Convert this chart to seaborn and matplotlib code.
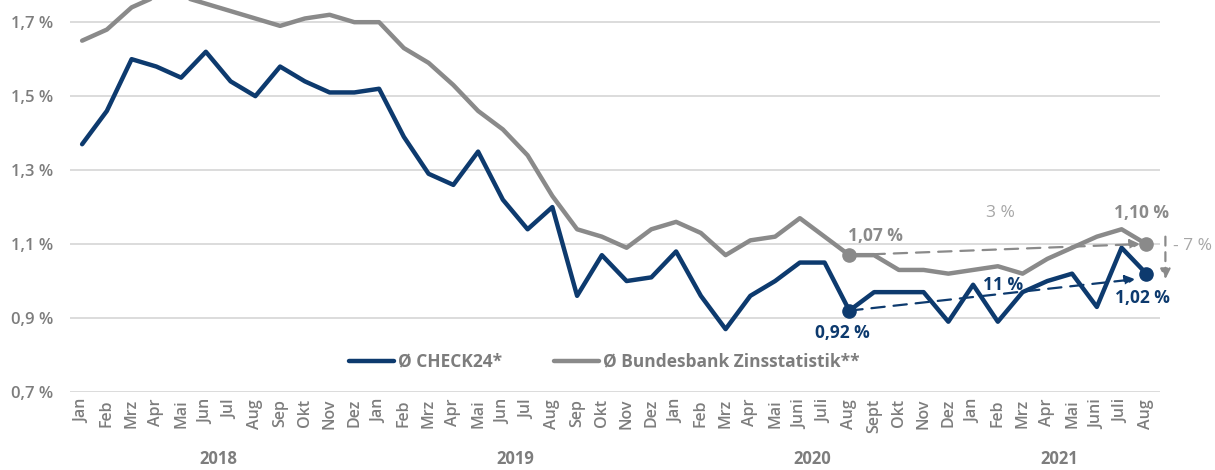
import pandas as pd
import numpy as np
import matplotlib.pyplot as plt
import seaborn as sns
from matplotlib.transforms import blended_transform_factory

months = ['Jan', 'Feb', 'Mrz', 'Apr', 'Mai', 'Jun', 'Jul', 'Aug', 'Sep', 'Okt', 'Nov', 'Dez',
          'Jan', 'Feb', 'Mrz', 'Apr', 'Mai', 'Jun', 'Jul', 'Aug', 'Sep', 'Okt', 'Nov', 'Dez',
          'Jan', 'Feb', 'Mrz', 'Apr', 'Mai', 'Juni', 'Juli', 'Aug', 'Sept', 'Okt', 'Nov', 'Dez',
          'Jan', 'Feb', 'Mrz', 'Apr', 'Mai', 'Juni', 'Juli', 'Aug']
years = ['2018', '2019', '2020', '2021']
year_first = [0, 12, 24, 36]
year_last = [11, 23, 35, 43]

check24 = [1.37, 1.46, 1.60, 1.58, 1.55, 1.62, 1.54, 1.50, 1.58, 1.54, 1.51, 1.51,
           1.52, 1.39, 1.29, 1.26, 1.35, 1.22, 1.14, 1.20, 0.96, 1.07, 1.00, 1.01,
           1.08, 0.96, 0.87, 0.96, 1.00, 1.05, 1.05, 0.92, 0.97, 0.97, 0.97, 0.89,
           0.99, 0.89, 0.97, 1.00, 1.02, 0.93, 1.09, 1.02]
bundesbank = [1.65, 1.68, 1.74, 1.77, 1.77, 1.75, 1.73, 1.71, 1.69, 1.71, 1.72, 1.70,
              1.70, 1.63, 1.59, 1.53, 1.46, 1.41, 1.34, 1.23, 1.14, 1.12, 1.09, 1.14,
              1.16, 1.13, 1.07, 1.11, 1.12, 1.17, 1.12, 1.07, 1.07, 1.03, 1.03, 1.02,
              1.03, 1.04, 1.02, 1.06, 1.09, 1.12, 1.14, 1.10]
series_names = ['Ø CHECK24*', 'Ø Bundesbank Zinsstatistik**']
yticks = [0.7, 0.9, 1.1, 1.3, 1.5, 1.7]

navy = '#0d3a6e'
grey = '#8a8a8a'
txt = '#7d7d7d'
light = '#a6a6a6'

n = len(months)
df = pd.DataFrame({
    'idx': list(range(n)) * 2,
    'Zins': check24 + bundesbank,
    'Serie': [series_names[0]] * n + [series_names[1]] * n,
})

sns.set_style('white')
plt.rcParams['font.family'] = ['Open Sans', 'DejaVu Sans']

fig = plt.figure(figsize=(12.15, 4.7), dpi=100)
ax = fig.add_axes([0.0576, 0.166, 0.8975, 0.834])

sns.lineplot(data=df, x='idx', y='Zins', hue='Serie', palette=[navy, grey],
             linewidth=3.2, ax=ax, legend=True)

ax.set_xlim(-0.49, 43.57)
ax.set_ylim(0.7, 1.76)
ax.set_yticks(yticks)
ax.set_yticklabels([f'{v:.1f} %'.replace('.', ',') for v in yticks],
                   fontsize=12, color=txt, fontweight='semibold')
ax.set_xticks(range(n))
ax.set_xticklabels(months, rotation=90, fontsize=11.5, color=txt, fontweight='semibold')
ax.tick_params(axis='x', length=0, pad=5)
ax.tick_params(axis='y', length=0, pad=12)
ax.set_xlabel('')
ax.set_ylabel('')
ax.grid(axis='y', color='#d9d9d9', linewidth=1.3)
ax.set_axisbelow(True)
for s in ax.spines.values():
    s.set_visible(False)

# year labels
tr = blended_transform_factory(ax.transData, fig.transFigure)
for y, a, b in zip(years, year_first, year_last):
    ax.text((a + b) / 2, 0.005, y, transform=tr, ha='center', va='bottom',
            fontsize=12, color=txt, fontweight='bold')

leg = ax.legend(loc='center', bbox_to_anchor=(0.49, 0.077), ncol=2, frameon=False,
                fontsize=12.5, handlelength=2.6, handletextpad=0.2, columnspacing=3.0,
                borderpad=0)
for t in leg.get_texts():
    t.set_color(txt)
    t.set_fontweight('bold')

# markers at start and end of comparison
i0, i1 = 31, 43
ax.scatter([i0, i1], [bundesbank[i0], bundesbank[i1]], s=90, color=grey, zorder=5)
ax.scatter([i0, i1], [check24[i0], check24[i1]], s=90, color=navy, zorder=5)

# dashed trend arrows
arrow = dict(arrowstyle='-|>', lw=1.6, mutation_scale=15, shrinkA=0, shrinkB=0)
ax.annotate('', xy=(42.75, 1.10), xytext=(i0, bundesbank[i0]),
            arrowprops=dict(arrow, color=grey, linestyle=(0, (6, 4))))
ax.annotate('', xy=(42.55, 1.005), xytext=(i0, check24[i0]),
            arrowprops=dict(arrow, color=navy, linestyle=(0, (6, 4))))
ax.annotate('', xy=(43.77, 1.005), xytext=(43.77, 1.12), annotation_clip=False,
            arrowprops=dict(arrow, color=grey, linestyle=(0, (4, 3))))

fs = 12.5
ax.text(32.05, 1.122, '1,07 %', color=grey, fontsize=fs, fontweight='bold', ha='center', va='center')
ax.text(30.7, 0.859, '0,92 %', color=navy, fontsize=fs, fontweight='bold', ha='center', va='center')
ax.text(37.1, 1.184, '3 %', color=light, fontsize=fs, ha='center', va='center')
ax.text(42.8, 1.184, '1,10 %', color=grey, fontsize=fs, fontweight='bold', ha='center', va='center')
ax.text(37.2, 0.989, '11 %', color=navy, fontsize=fs, fontweight='bold', ha='center', va='center')
ax.text(42.85, 0.954, '1,02 %', color=navy, fontsize=fs, fontweight='bold', ha='center', va='center')
ax.text(44.87, 1.095, '- 7 %', color=light, fontsize=fs, ha='center', va='center', clip_on=False)

fig.savefig('out.png', dpi=100)
